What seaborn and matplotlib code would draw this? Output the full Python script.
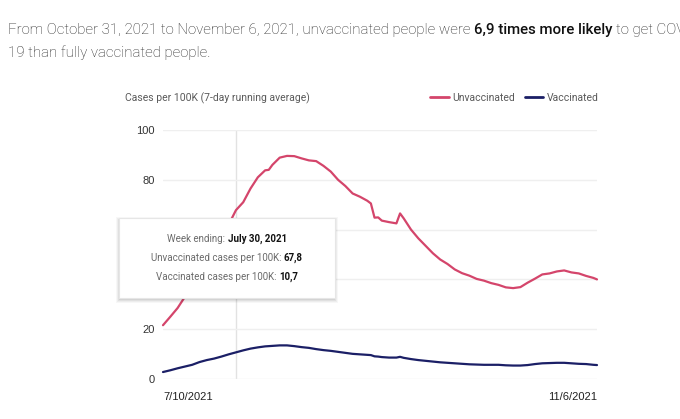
import matplotlib
matplotlib.use("Agg")
import matplotlib.pyplot as plt
from matplotlib import font_manager
from matplotlib.patches import Rectangle
from matplotlib.transforms import IdentityTransform
import pandas as pd
import seaborn as sns

# values (days after 7/10/2021)
day_offsets = [0, 2, 4, 6, 8, 10, 12, 14, 16, 18, 20, 22, 24, 26, 28, 29, 30,
               32, 34, 36, 38, 40, 42, 44, 46, 48, 50, 52, 54, 56, 57, 58, 59,
               60, 62, 64, 65, 66, 68, 70, 72, 74, 76, 78, 80, 82, 84, 86, 88,
               90, 92, 94, 96, 98, 100, 102, 104, 106, 108, 110, 112, 114, 116,
               118, 119]
unvaccinated = [21.6, 25.0, 28.5, 33.0, 38.0, 44.0, 49.0, 53.5, 58.0, 62.0,
                67.8, 71.0, 76.5, 81.0, 83.8, 84.0, 86.0, 88.9, 89.6, 89.5,
                88.6, 87.8, 87.5, 85.6, 83.3, 80.0, 77.5, 74.5, 73.2, 71.6,
                70.5, 64.8, 64.9, 63.6, 63.0, 62.5, 66.5, 64.5, 60.0, 56.5,
                53.5, 50.5, 48.0, 46.2, 44.0, 42.5, 41.5, 40.2, 39.5, 38.5,
                37.8, 36.8, 36.5, 36.9, 38.7, 40.3, 42.0, 42.4, 43.2, 43.6,
                42.8, 42.4, 41.4, 40.6, 40.0]
vaccinated = [2.8, 3.5, 4.3, 5.0, 5.7, 6.8, 7.6, 8.2, 9.0, 9.9,
              10.7, 11.5, 12.2, 12.7, 13.1, 13.2, 13.3, 13.5, 13.5, 13.2,
              12.8, 12.5, 12.0, 11.6, 11.3, 10.9, 10.5, 10.1, 9.9, 9.7,
              9.6, 9.1, 9.0, 8.8, 8.6, 8.6, 8.9, 8.5, 8.0, 7.6,
              7.3, 7.0, 6.7, 6.5, 6.3, 6.1, 5.9, 5.8, 5.7, 5.7,
              5.7, 5.5, 5.4, 5.4, 5.6, 6.0, 6.3, 6.4, 6.5, 6.5,
              6.3, 6.1, 6.0, 5.7, 5.6]
start_date = "2021-07-10"
hover_date = "2021-07-30"
y_ticks = [0, 20, 40, 60, 80, 100]
x_tick_labels = ["7/10/2021", "11/6/2021"]
series_names = ["Unvaccinated", "Vaccinated"]
series_colors = ["#d4456b", "#1b1f66"]

dates = pd.Timestamp(start_date) + pd.to_timedelta(day_offsets, unit="D")
df = pd.DataFrame({
    "date": list(dates) * 2,
    "cases": unvaccinated + vaccinated,
    "group": [series_names[0]] * len(dates) + [series_names[1]] * len(dates),
})
hover = pd.Timestamp(hover_date)
hover_idx = list(dates).index(hover)

sns.set_theme(style="white")
plt.rcParams["font.family"] = ["Roboto", "DejaVu Sans"]

# Roboto Medium if it is there, else a slightly smaller Bold
has_medium = any(f.name == "Roboto" and f.weight == 500
                 for f in font_manager.fontManager.ttflist)
head_bold = dict(color="#111111", fontweight="medium" if has_medium else "bold")
head_bold_size = 10.8 if has_medium else 10.0

W, H = 680, 419
fig = plt.figure(figsize=(W / 100, H / 100), dpi=100)
ax = fig.add_axes([163 / W, 1 - 379 / H, (597 - 163) / W, (379 - 130) / H])

sns.lineplot(data=df, x="date", y="cases", hue="group",
             palette=dict(zip(series_names, series_colors)),
             linewidth=1.6, ax=ax, legend=False)
for ln in ax.lines:
    ln.set_clip_on(False)

ax.axvline(hover, color="#e2e2e2", lw=1, zorder=0)
ax.set_xlim(dates[0], dates[-1])
ax.set_ylim(0, 100)
ax.set_yticks(y_ticks)
ax.grid(axis="y", color="#efefef", lw=1)
ax.grid(axis="x", visible=False)
for s in ax.spines.values():
    s.set_visible(False)
ax.set_xlabel("")
ax.set_ylabel("")
ax.set_xticks([dates[0], dates[-1]])
ax.set_xticklabels(x_tick_labels)
ax.tick_params(axis="y", length=0, pad=6, labelsize=8, labelcolor="#333333")
ax.tick_params(axis="x", length=0, pad=9, labelsize=8, labelcolor="#222222")
for t in ax.get_yticklabels():
    t.set_fontfamily(["Liberation Sans", "DejaVu Sans"])
xl = ax.get_xticklabels()
for t in xl:
    t.set_fontfamily(["Liberation Sans", "DejaVu Sans"])
xl[0].set_ha("left")
xl[1].set_ha("right")

fig.text(125 / W, 1 - 98 / H, "Cases per 100K (7-day running average)",
         fontsize=7.5, color="#5a5a5a", va="center")

handles = [plt.Line2D([], [], color=c, lw=2) for c in series_colors]
leg = fig.legend(handles, series_names, loc="center right",
                 bbox_to_anchor=(599 / W, 1 - 98 / H), ncol=2, frameon=False,
                 fontsize=7.5, handlelength=1.8, handletextpad=0.35,
                 columnspacing=0.9, borderpad=0, borderaxespad=0)
for t in leg.get_texts():
    t.set_color("#5a5a5a")

renderer = fig.canvas.get_renderer()
px = IdentityTransform()


def space_width(size, style):
    a = fig.text(0, 0, "n n", fontsize=size, transform=px, **style)
    b = fig.text(0, 0, "nn", fontsize=size, transform=px, **style)
    w = a.get_window_extent(renderer).width - b.get_window_extent(renderer).width
    a.remove()
    b.remove()
    return w


def draw_runs(x, y_top, runs, ha="left"):
    """Mixed-weight line of text, placed in pixel coords (y from top)."""
    arts, widths = [], []
    for s, style, size in runs:
        t = fig.text(0, 0, s.strip(), fontsize=size, va="baseline",
                     transform=px, zorder=6, **style)
        w = t.get_window_extent(renderer).width
        if s.endswith(" "):
            w += space_width(size, style)
        arts.append(t)
        widths.append(w)
    x0 = x - sum(widths) / 2 if ha == "center" else x
    for t, w in zip(arts, widths):
        t.set_position((x0, H - y_top))
        x0 += w


light = dict(color="#222222", fontweight="light")
draw_runs(8, 34, [("From October 31, 2021 to November 6, 2021, unvaccinated people were ", light, 10.85),
                  ("6,9 times more likely ", head_bold, head_bold_size),
                  ("to get COVID-", light, 10.85)])
draw_runs(8, 57, [("19 than fully vaccinated people.", light, 10.85)])

# tooltip box with a soft shadow
bx, by, bw, bh = 119, 218, 216, 80
for k, a in [(4, 0.03), (3, 0.04), (2, 0.05), (1, 0.06)]:
    fig.patches.append(Rectangle((bx - k + 1, H - by - bh - k - 1), bw + 2 * k - 2, bh + 2 * k - 2,
                                 transform=px, facecolor="black", alpha=a,
                                 edgecolor="none", zorder=4))
fig.patches.append(Rectangle((bx, H - by - bh), bw, bh, transform=px,
                             facecolor="white", edgecolor="#e6e6e6", lw=0.8, zorder=5))

tip_gray = dict(color="#6a6a6a")
tip_bold = dict(color="#111111", fontweight="bold")
cx = bx + bw / 2
draw_runs(cx, 242, [("Week ending: ", tip_gray, 7),
                    (f"{hover.strftime('%B')} {hover.day}, {hover.year}", tip_bold, 7)], "center")
draw_runs(cx, 261, [("Unvaccinated cases per 100K: ", tip_gray, 7),
                    (f"{unvaccinated[hover_idx]:.1f}".replace(".", ","), tip_bold, 7)], "center")
draw_runs(cx, 280, [("Vaccinated cases per 100K: ", tip_gray, 7),
                    (f"{vaccinated[hover_idx]:.1f}".replace(".", ","), tip_bold, 7)], "center")

fig.savefig("out.png", dpi=100)
